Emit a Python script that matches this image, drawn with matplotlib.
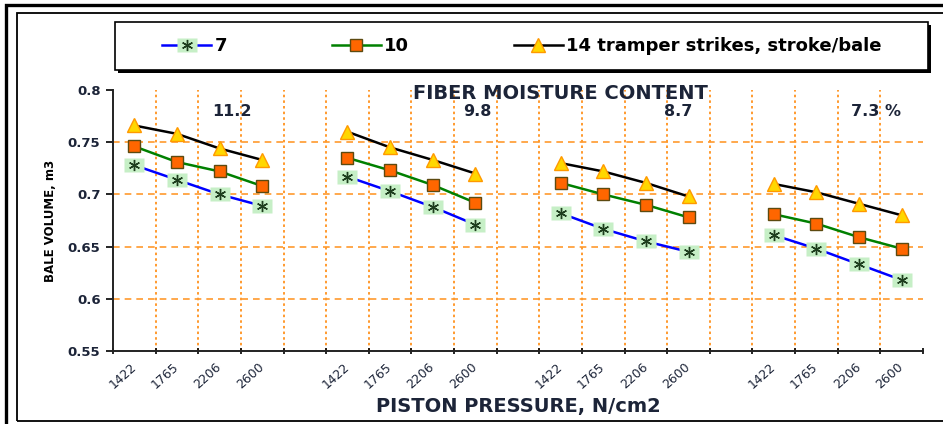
import matplotlib
matplotlib.use("Agg")
import matplotlib.pyplot as plt
from matplotlib.patches import Rectangle
from matplotlib.legend_handler import HandlerTuple

# pressure categories repeated for every moisture group
PRESSURES = ["1422", "1765", "2206", "2600"]
MOISTURE = ["11.2", "9.8", "8.7", "7.3 %"]

# bale volume, m3 -- one list per moisture group, per tramper strikes
STRIKES_7 = [
    [0.728, 0.714, 0.700, 0.689],
    [0.717, 0.703, 0.688, 0.671],
    [0.682, 0.667, 0.655, 0.645],
    [0.661, 0.648, 0.633, 0.618],
]
STRIKES_10 = [
    [0.746, 0.731, 0.722, 0.708],
    [0.735, 0.723, 0.709, 0.692],
    [0.711, 0.700, 0.690, 0.678],
    [0.681, 0.672, 0.659, 0.648],
]
STRIKES_14 = [
    [0.766, 0.758, 0.744, 0.733],
    [0.760, 0.745, 0.733, 0.720],
    [0.730, 0.722, 0.711, 0.698],
    [0.710, 0.702, 0.691, 0.680],
]
LEGEND_LABELS = ["7", "10", "14 tramper strikes, stroke/bale"]
Y_TICKS = [0.55, 0.6, 0.65, 0.7, 0.75, 0.8]
Y_TICK_LABELS = ["0.55", "0.6", "0.65", "0.7", "0.75", "0.8"]

TEXT_COLOR = "#1c2438"
GRID_COLOR = "#ff9a2e"

plt.rcParams["font.family"] = ["DejaVu Sans"]

fig = plt.figure(figsize=(9.43, 4.24), dpi=100)
ax = fig.add_axes([113 / 943, 73 / 424, 810 / 943, 261 / 424])

# outer frames of the picture
fig.add_artist(Rectangle((6 / 943, -0.2), 1.2, (424 - 5) / 424 + 0.2, transform=fig.transFigure,
                         fill=False, lw=2.4, edgecolor="black"))
fig.add_artist(Rectangle((17 / 943, 3.5 / 424), 1.2, (420.5 - 13) / 424, transform=fig.transFigure,
                         fill=False, lw=1.3, edgecolor="black"))

n = len(PRESSURES)
step = n + 1  # one empty category between groups
n_cat = step * len(MOISTURE) - 1

handles = None
for g in range(len(MOISTURE)):
    xs = [g * step + i for i in range(n)]
    l7, = ax.plot(xs, STRIKES_7[g], color="#0000ff", lw=1.8, zorder=3,
                  marker=[(-1.5, -1), (1.5, -1), (1.5, 1), (-1.5, 1)], ms=15,
                  markerfacecolor="#c6efc6", markeredgecolor="none")
    s7, = ax.plot(xs, STRIKES_7[g], ls="none", marker=(6, 2, 0), ms=8,
                  color="#1d3d1d", mew=1.0, zorder=4)
    l10, = ax.plot(xs, STRIKES_10[g], color="#008000", lw=1.8, zorder=3,
                   marker="s", ms=8, markerfacecolor="#ff6600",
                   markeredgecolor="#5c4a10", mew=1.0)
    l14, = ax.plot(xs, STRIKES_14[g], color="black", lw=1.8, zorder=3,
                   marker="^", ms=10, markerfacecolor="#ffd700",
                   markeredgecolor="#ff9900", mew=1.0)
    handles = [(l7, s7), l10, l14]

ax.set_xlim(-0.5, n_cat - 0.5)
ax.set_ylim(0.55, 0.8)

# category labels in the centres, tick marks on the boundaries (Excel style)
labels = []
for g in range(len(MOISTURE)):
    labels += PRESSURES
    if g < len(MOISTURE) - 1:
        labels.append("")
ax.set_xticks([b - 0.5 for b in range(n_cat + 1)])
ax.set_xticklabels([])
ax.set_xticks(range(n_cat), minor=True)
ax.set_xticklabels(labels, minor=True, rotation=42, ha="right", va="center",
                   rotation_mode="anchor", fontsize=9, color=TEXT_COLOR)
ax.tick_params(axis="x", which="major", direction="inout", length=5, width=1.2)
ax.tick_params(axis="x", which="minor", length=0, pad=10)

ax.set_yticks(Y_TICKS)
ax.set_yticklabels(Y_TICK_LABELS, fontsize=9.5, fontweight="bold", color=TEXT_COLOR)
ax.tick_params(axis="y", direction="out", length=5, width=1.2, pad=4)

for b in range(1, n_cat):
    ax.axvline(b - 0.5, color=GRID_COLOR, lw=1.4, ls=(0, (1.3, 1.6)), zorder=1)
for yv in Y_TICKS[1:-1]:
    ax.axhline(yv, color=GRID_COLOR, lw=1.2, ls=(0, (4, 3)), zorder=1)

for side in ["top", "right"]:
    ax.spines[side].set_visible(False)
for side in ["left", "bottom"]:
    ax.spines[side].set_linewidth(1.4)
    ax.spines[side].set_color("#222222")

ax.set_ylabel("BALE VOLUME, m3", fontsize=8.5, fontweight="bold", labelpad=8)
ax.set_xlabel("PISTON PRESSURE, N/cm2", fontsize=14, fontweight="bold",
              color=TEXT_COLOR)
ax.xaxis.set_label_coords(0.5, -0.175)

ax.text(10.0, 0.797, "FIBER MOISTURE CONTENT", ha="center", va="center",
        fontsize=14, fontweight="bold", color=TEXT_COLOR)
label_x = [2.3, 8.05, 12.75, 17.4]
for lx, lab in zip(label_x, MOISTURE):
    ax.text(lx, 0.779, lab, ha="center", va="center", fontsize=11.5,
            fontweight="bold", color=TEXT_COLOR)

# legend box with shadow
fig.add_artist(Rectangle((118 / 943, (424 - 73) / 424), 813 / 943, 48 / 424,
                         transform=fig.transFigure, facecolor="black", edgecolor="none"))
fig.add_artist(Rectangle((115 / 943, (424 - 70) / 424), 813 / 943, 48 / 424,
                         transform=fig.transFigure, facecolor="white", edgecolor="black", lw=1.2))
fig.legend(handles, LEGEND_LABELS, loc="center", bbox_to_anchor=(522 / 943, (424 - 46) / 424),
           ncol=3, frameon=False, handlelength=2.7, handletextpad=0.2, columnspacing=5.8,
           handler_map={tuple: HandlerTuple(ndivide=1)},
           prop={"weight": "bold", "size": 13})

fig.savefig("out.png", dpi=100)
